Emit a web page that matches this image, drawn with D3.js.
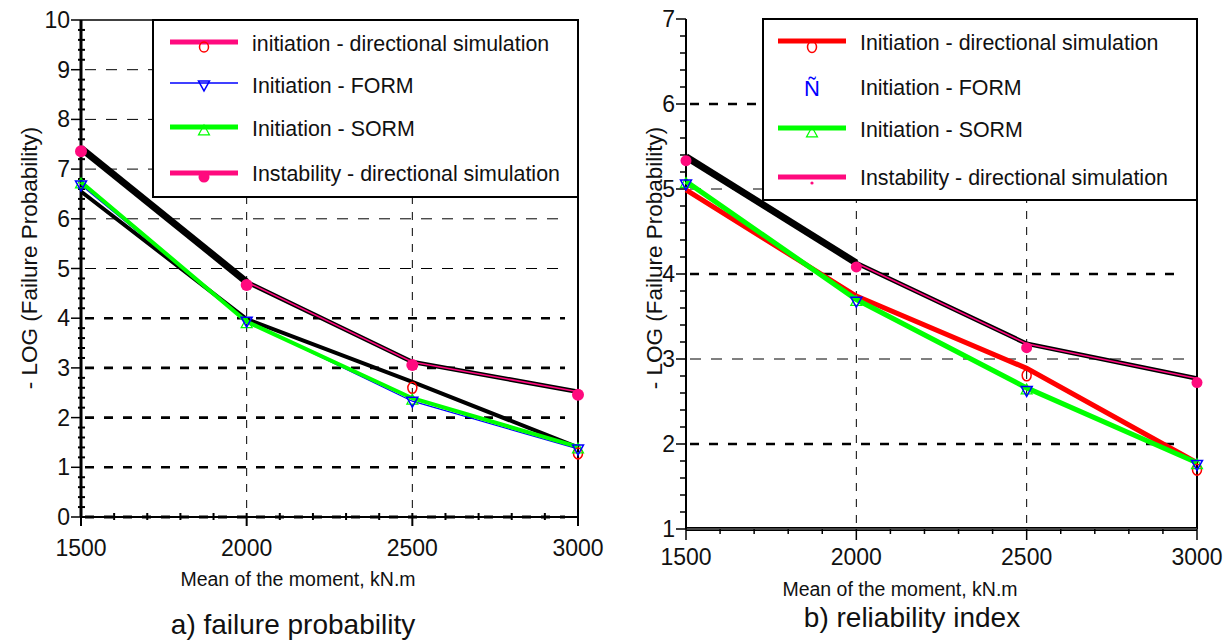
<!DOCTYPE html>
<html><head><meta charset="utf-8">
<script src="https://cdn.jsdelivr.net/npm/d3@7"></script>
<style>body{margin:0;background:#fff} text{font-family:"Liberation Sans",Arial,sans-serif;fill:#111}</style>
</head><body><svg id="c" width="1231" height="641"></svg>
<script>
const xValues=[1500,2000,2500,3000];
const xTickLabels=["1500","2000","2500","3000"];
const leftYTicks=[0,1,2,3,4,5,6,7,8,9,10];
const rightYTicks=[1,2,3,4,5,6,7];
const leftInstability=[7.42,4.73,3.12,2.52];
const leftInitDirSim=[6.55,3.98,2.72,1.40];
const leftInitFORM=[6.68,3.94,2.33,1.37];
const leftInitSORM=[6.74,3.93,2.39,1.41];
const rightInstability=[5.38,4.13,3.18,2.77];
const rightInitDirSim=[4.99,3.74,2.89,1.78];
const rightInitFORM=[5.06,3.68,2.63,1.76];
const rightInitSORM=[5.09,3.70,2.66,1.78];
const leftLegendLabels=["initiation - directional simulation","Initiation - FORM","Initiation - SORM","Instability - directional simulation"];
const rightLegendLabels=["Initiation - directional simulation","Initiation - FORM","Initiation - SORM","Instability - directional simulation"];
const xTitle="Mean of the moment, kN.m";
const yTitle="- LOG (Failure Probability)";
const leftCaption="a) failure probability";
const rightCaption="b) reliability index";

const PINK="#ff0a7e", RED="#ff0000", GREEN="#00ff00", BLUE="#0000ff";
const svg=d3.select("#c");

function tri(g,cx,cy,s,down,color,sw){
  const h=s*0.9;
  const pts=down?[[cx-s/2,cy-h/2],[cx+s/2,cy-h/2],[cx,cy+h/2]]:[[cx-s/2,cy+h/2],[cx+s/2,cy+h/2],[cx,cy-h/2]];
  g.append("path").attr("d","M"+pts.map(p=>p.join(",")).join("L")+"Z")
   .attr("fill","none").attr("stroke",color).attr("stroke-width",sw);
}

function panel(cfg){
  const g=svg.append("g");
  const x=d3.scaleLinear([xValues[0],xValues[3]],[cfg.x0,cfg.x1]);
  const y=d3.scaleLinear(cfg.yDomain,[cfg.y0,cfg.y1]);
  const [ymin,ymax]=cfg.yDomain;
  cfg.yTicks.filter(v=>v>ymin&&v<ymax).forEach(v=>{
    const thick=cfg.thick.includes(v);
    g.append("line").attr("x1",x(1500)+4).attr("x2",x(3000)-13).attr("y1",y(v)).attr("y2",y(v))
     .attr("stroke","#000").attr("stroke-width",thick?2.6:1).attr("stroke-dasharray",thick?"9,10":"11,10");
  });
  [2000,2500].forEach(v=>{
    g.append("line").attr("x1",x(v)).attr("x2",x(v)).attr("y1",y(ymax)).attr("y2",y(ymin))
     .attr("stroke","#000").attr("stroke-width",1).attr("stroke-dasharray","8,8");
  });
  g.append("line").attr("x1",x(3000)).attr("x2",x(3000)).attr("y1",y(ymax)).attr("y2",y(ymin))
   .attr("stroke","#000").attr("stroke-width",2);
  if(cfg.topLine) g.append("line").attr("x1",x(1500)).attr("x2",x(3000)).attr("y1",y(ymax)).attr("y2",y(ymax)).attr("stroke","#000").attr("stroke-width",1.5);
  if(cfg.side==="L"){
    g.append("line").attr("x1",x(1500)).attr("x2",x(3000)).attr("y1",y(ymin)).attr("y2",y(ymin)).attr("stroke","#000").attr("stroke-width",2);
    g.append("line").attr("x1",x(1500)+4).attr("x2",x(3000)-13).attr("y1",y(ymin)).attr("y2",y(ymin)).attr("stroke","#000").attr("stroke-width",3).attr("stroke-dasharray","9,10");
    d3.range(1500,3001,100).forEach(v=>{
      const major=v%500===0;
      g.append("line").attr("x1",x(v)).attr("x2",x(v)).attr("y1",y(ymin)-4).attr("y2",y(ymin)+(major?9:3)).attr("stroke","#000").attr("stroke-width",2);
    });
  } else {
    g.append("line").attr("x1",x(1500)).attr("x2",x(3000)).attr("y1",y(ymin)).attr("y2",y(ymin)).attr("stroke","#000").attr("stroke-width",4);
    g.append("line").attr("x1",x(1500)).attr("x2",x(3000)).attr("y1",y(ymin)).attr("y2",y(ymin)).attr("stroke","#888").attr("stroke-width",1);
    d3.range(1500,3001,100).forEach(v=>{
      const major=v%500===0;
      g.append("line").attr("x1",x(v)).attr("x2",x(v)).attr("y1",y(ymin)).attr("y2",y(ymin)+(major?11:5)).attr("stroke","#000").attr("stroke-width",1.5);
    });
  }
  g.append("line").attr("x1",x(1500)).attr("x2",x(1500)).attr("y1",y(ymax)).attr("y2",y(ymin)).attr("stroke","#000").attr("stroke-width",cfg.side==="L"?3:2);
  d3.range(ymin,ymax+0.001,0.2).forEach(v=>{
    const major=Math.abs(v-Math.round(v))<1e-6;
    if(major) g.append("line").attr("x1",x(1500)-10).attr("x2",x(1500)).attr("y1",y(v)).attr("y2",y(v)).attr("stroke","#000").attr("stroke-width",1.5);
    else if(cfg.side==="L") g.append("line").attr("x1",x(1500)-3).attr("x2",x(1500)+4).attr("y1",y(v)).attr("y2",y(v)).attr("stroke","#000").attr("stroke-width",2);
    else g.append("line").attr("x1",x(1500)-6).attr("x2",x(1500)).attr("y1",y(v)).attr("y2",y(v)).attr("stroke","#000").attr("stroke-width",1.5);
  });
  cfg.yTicks.forEach(v=>{
    g.append("text").attr("x",x(1500)-11).attr("y",y(v)+8).attr("text-anchor","end").attr("font-size",23).text(v);
  });
  xValues.forEach((v,i)=>{
    g.append("text").attr("x",x(v)).attr("y",cfg.xLabelY).attr("text-anchor","middle").attr("font-size",23).text(xTickLabels[i]);
  });
  g.append("text").attr("x",cfg.xTitleX).attr("y",cfg.xTitleY).attr("text-anchor","middle").attr("font-size",19.5).text(xTitle);
  g.append("text").attr("transform",`translate(${cfg.yTitleX},${cfg.yTitleY}) rotate(-90)`).attr("text-anchor","middle").attr("font-size",22.5).text(yTitle);
  g.append("text").attr("x",cfg.capX).attr("y",cfg.capY).attr("text-anchor","middle").attr("font-size",28).text(cfg.caption);

  const line=d3.line().x((d,i)=>x(xValues[i])).y(d=>y(d));
  const lineFrom=(arr,a,b)=>d3.line().x((d,i)=>x(xValues[i+a])).y(d=>y(d))(arr.slice(a,b));
  if(cfg.side==="L"){
    g.append("path").attr("d",line(cfg.form)).attr("fill","none").attr("stroke",BLUE).attr("stroke-width",1.2);
    g.append("path").attr("d",line(cfg.dirsim)).attr("fill","none").attr("stroke","#000").attr("stroke-width",4);
    g.append("path").attr("d",line(cfg.sorm)).attr("fill","none").attr("stroke",GREEN).attr("stroke-width",4);
  } else {
    g.append("path").attr("d",line(cfg.dirsim)).attr("fill","none").attr("stroke",RED).attr("stroke-width",5);
    g.append("path").attr("d",line(cfg.sorm)).attr("fill","none").attr("stroke",GREEN).attr("stroke-width",5);
  }
  g.append("path").attr("d",line(cfg.inst)).attr("fill","none").attr("stroke","#000").attr("stroke-width",4.5);
  g.append("path").attr("d",lineFrom(cfg.inst,0,2)).attr("fill","none").attr("stroke","#000").attr("stroke-width",7);
  g.append("path").attr("d",lineFrom(cfg.inst,1,4)).attr("fill","none").attr("stroke",PINK).attr("stroke-width",1.6);
  cfg.dirsim.forEach((v,i)=>{
    if(i<2) return;
    g.append("ellipse").attr("cx",x(xValues[i])).attr("cy",y(v)+cfg.redDy).attr("rx",4.5).attr("ry",5.5)
     .attr("fill","none").attr("stroke",RED).attr("stroke-width",1.5);
  });
  cfg.sorm.forEach((v,i)=>tri(g,x(xValues[i]),y(v)+1,11,false,GREEN,1.2));
  cfg.form.forEach((v,i)=>tri(g,x(xValues[i]),y(v)+1,11,true,BLUE,1.5));
  cfg.inst.forEach((v,i)=>{
    g.append("circle").attr("cx",x(xValues[i])).attr("cy",y(v)+cfg.instDy).attr("r",cfg.instR).attr("fill",PINK);
  });
  const L=cfg.legend;
  g.append("rect").attr("x",L.x).attr("y",L.y).attr("width",L.w).attr("height",L.h).attr("fill","#fff").attr("stroke","#000").attr("stroke-width",2);
  const lx1=L.x+L.lineOff, lx2=lx1+68, lc=(lx1+lx2)/2;
  L.labels.forEach((lab,i)=>{
    g.append("text").attr("x",lx1+82).attr("y",L.rows[i]+8).attr("font-size",21.4).text(lab);
  });
  const r=L.rows;
  if(cfg.side==="L"){
    g.append("line").attr("x1",lx1).attr("x2",lx2).attr("y1",r[0]-1).attr("y2",r[0]-1).attr("stroke",PINK).attr("stroke-width",5);
    g.append("ellipse").attr("cx",lc).attr("cy",r[0]+4).attr("rx",4.5).attr("ry",5).attr("fill","none").attr("stroke",RED).attr("stroke-width",1.5);
    g.append("line").attr("x1",lx1).attr("x2",lx2).attr("y1",r[1]-2).attr("y2",r[1]-2).attr("stroke",BLUE).attr("stroke-width",1.5);
    tri(g,lc,r[1]+1,11,true,BLUE,1.5);
    g.append("line").attr("x1",lx1).attr("x2",lx2).attr("y1",r[2]-1).attr("y2",r[2]-1).attr("stroke",GREEN).attr("stroke-width",5);
    tri(g,lc,r[2]+2,11,false,GREEN,1.2);
    g.append("line").attr("x1",lx1).attr("x2",lx2).attr("y1",r[3]).attr("y2",r[3]).attr("stroke",PINK).attr("stroke-width",5);
    g.append("circle").attr("cx",lc).attr("cy",r[3]+4).attr("r",5.5).attr("fill",PINK);
  } else {
    g.append("ellipse").attr("cx",lc).attr("cy",r[0]+5).attr("rx",4.5).attr("ry",5.5).attr("fill","none").attr("stroke",RED).attr("stroke-width",1.5);
    g.append("line").attr("x1",lx1).attr("x2",lx2).attr("y1",r[0]-1).attr("y2",r[0]-1).attr("stroke",RED).attr("stroke-width",5);
    g.append("text").attr("x",lc).attr("y",r[1]+9).attr("text-anchor","middle").attr("font-size",22).style("fill",BLUE).text("Ñ");
    g.append("line").attr("x1",lx1).attr("x2",lx2).attr("y1",r[2]-1).attr("y2",r[2]-1).attr("stroke",GREEN).attr("stroke-width",5);
    tri(g,lc,r[2]+3,11,false,GREEN,1.2);
    g.append("line").attr("x1",lx1).attr("x2",lx2).attr("y1",r[3]).attr("y2",r[3]).attr("stroke",PINK).attr("stroke-width",5);
    g.append("circle").attr("cx",lc).attr("cy",r[3]+6).attr("r",1.6).attr("fill",PINK);
  }
}

panel({side:"L",x0:81,x1:578,y0:517,y1:20,yDomain:[0,10],yTicks:leftYTicks,thick:[1,2,3,4],topLine:true,
  xLabelY:556,xTitleX:298,xTitleY:586,yTitleX:37,yTitleY:258,capX:293,capY:634,caption:leftCaption,
  inst:leftInstability,dirsim:leftInitDirSim,form:leftInitFORM,sorm:leftInitSORM,redDy:6,instDy:3,instR:6,
  legend:{x:153,y:20,w:425,h:177,lineOff:17,rows:[43,85,128,173],labels:leftLegendLabels}});
panel({side:"R",x0:686,x1:1197,y0:529,y1:19,yDomain:[1,7],yTicks:rightYTicks,thick:[2,4,6],topLine:false,
  xLabelY:565,xTitleX:900,xTitleY:596,yTitleX:662,yTitleY:258,capX:912,capY:627,caption:rightCaption,
  inst:rightInstability,dirsim:rightInitDirSim,form:rightInitFORM,sorm:rightInitSORM,redDy:7,instDy:4,instR:5.5,
  legend:{x:763,y:19,w:434,h:181,lineOff:15,rows:[42,87,129,177],labels:rightLegendLabels}});
</script></body></html>
